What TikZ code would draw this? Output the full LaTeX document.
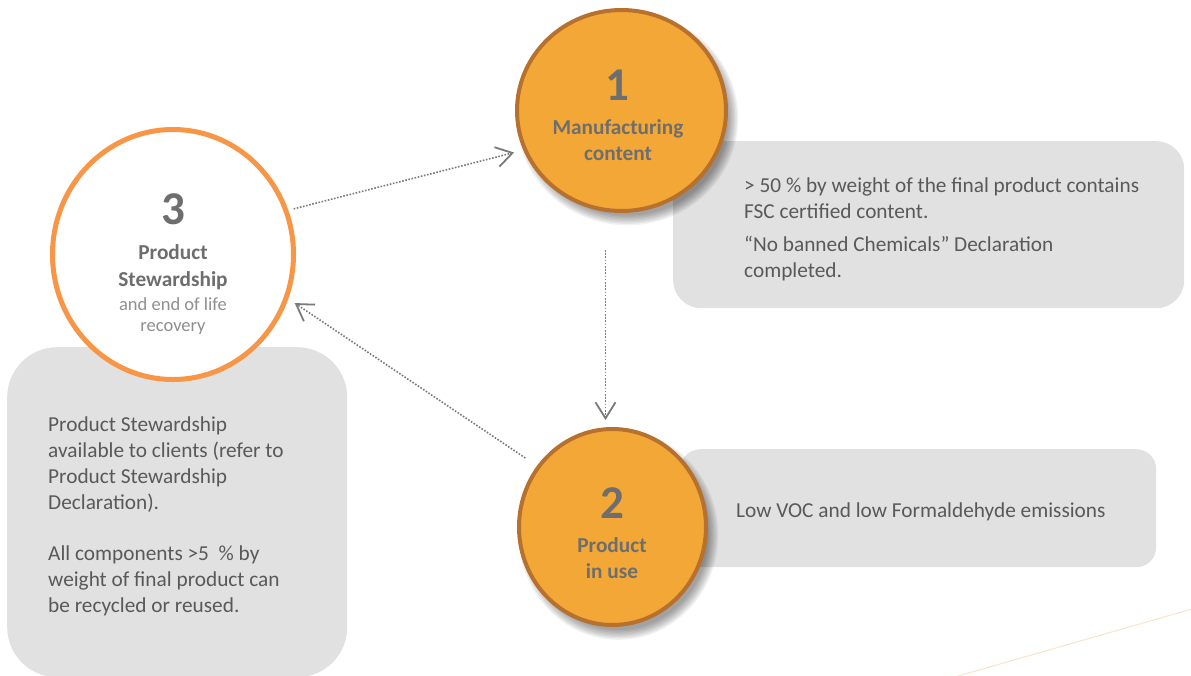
\documentclass[tikz,border=0pt]{standalone}
\usepackage{fontspec}
\setmainfont{Carlito}
\usetikzlibrary{arrows.meta,shapes.geometric,calc}
\definecolor{orfill}{HTML}{F3A736}
\definecolor{orline}{HTML}{B7712F}
\definecolor{ring}{HTML}{F79646}
\definecolor{boxgray}{HTML}{E1E1E1}
\definecolor{titlegray}{HTML}{6E6E6E}
\definecolor{bodygray}{HTML}{595959}
\definecolor{subgray}{HTML}{8F8F8F}
\definecolor{arrgray}{HTML}{7A7A7A}
\definecolor{peach}{HTML}{FBE3CB}
\begin{document}
\begin{tikzpicture}[x=1pt,y=-1pt,
  orangecirc/.style={ellipse, draw=orline, line width=4pt, fill=orfill, inner sep=0pt},
  ringcirc/.style={ellipse, draw=ring, line width=5pt, fill=white, inner sep=0pt},
  infobox/.style={fill=boxgray, draw=none, inner sep=0pt, anchor=north west},
  numtxt/.style={font=\fontsize{47}{50}\selectfont\bfseries, text=titlegray, inner sep=0pt, anchor=base},
  titletxt/.style={font=\fontsize{21.3}{26}\selectfont\bfseries, text=titlegray, inner sep=0pt, anchor=base},
  subtxt/.style={font=\fontsize{18.5}{23}\selectfont, text=subgray, inner sep=0pt, anchor=base},
  bodytxt/.style={font=\fontsize{21.3}{26}\selectfont, text=bodygray, inner sep=0pt, anchor=base west},
  flow/.style={draw=arrgray, line width=1.6pt, dash pattern=on 1.6pt off 1.6pt,
    -{Straight Barb[length=16pt,width=20pt,line width=1.8pt]}}
]
\useasboundingbox (0,0) rectangle (1191,675);
\clip (0,0) rectangle (1191,675);

% grey information boxes
\node[infobox, rounded corners=28pt, minimum width=511pt, minimum height=167pt] (b1) at (673,141) {};
\node[infobox, rounded corners=20pt, minimum width=476pt, minimum height=118pt] (b2) at (680,449) {};
\node[infobox, rounded corners=50pt, minimum width=340pt, minimum height=330pt] (b3) at (7,347) {};

% faint decorative line
\coordinate (d1) at (958,676);
\coordinate (d2) at (1192,609);
\draw[peach, line width=1pt] (d1) -- (d2);

% circle centres
\coordinate (p1) at (621.5,110.5);
\coordinate (p2) at (612.5,527);
\coordinate (p3) at (173,254.5);

% soft shadows of the orange circles
\foreach \k in {0,...,7}{
  \fill[black, opacity=0.055] ($(p1)+(6,8)$) ellipse [x radius={101pt+1.4pt*\k}, y radius={97pt+1.4pt*\k}];
  \fill[black, opacity=0.055] ($(p2)+(6,8)$) ellipse [x radius={90pt+1.4pt*\k}, y radius={95pt+1.4pt*\k}];
}

% circles
\node[orangecirc, minimum width=209pt, minimum height=201pt] (c1) at (p1) {};
\node[orangecirc, minimum width=187pt, minimum height=196pt] (c2) at (p2) {};
\node[ringcirc, minimum width=241pt, minimum height=250pt] (c3) at (p3) {};

% circle texts
\node[numtxt] (n1) at (617.5,100) {1};
\node[titletxt] (n1a) at (618,134) {Manufacturing};
\node[titletxt] (n1b) at (618,160) {content};

\node[numtxt] (n2) at (612,518) {2};
\node[titletxt] (n2a) at (612,552) {Product};
\node[titletxt] (n2b) at (612,578) {in use};

\node[numtxt] (n3) at (173,224) {3};
\node[titletxt] (n3a) at (173,259) {Product};
\node[titletxt] (n3b) at (173,286) {Stewardship};
\node[subtxt] (n3c) at (173,310) {and end of life};
\node[subtxt] (n3d) at (173,331) {recovery};

% box texts
\node[bodytxt] (t1a) at (744,192) {> 50 \% by weight of the final product contains};
\node[bodytxt] (t1b) at (744,218) {FSC certified content.};
\node[bodytxt] (t1c) at (744,251) {“No banned Chemicals” Declaration};
\node[bodytxt] (t1d) at (744,277) {completed.};

\node[bodytxt] (t2a) at (736,517) {Low VOC and low Formaldehyde emissions};

\node[bodytxt] (t3a) at (48,431) {Product Stewardship};
\node[bodytxt] (t3b) at (48,457) {available to clients (refer to};
\node[bodytxt] (t3c) at (48,483) {Product Stewardship};
\node[bodytxt] (t3d) at (48,509) {Declaration).};
\node[bodytxt] (t3e) at (48,560) {All components >5\ \ \% by};
\node[bodytxt] (t3f) at (48,586) {weight of final product can};
\node[bodytxt] (t3g) at (48,612) {be recycled or reused.};

% connectors
\draw[flow, shorten <=5.5pt, shorten >=9.5pt] (c3.21.8) -- (c1.202.7);
\draw[flow] ([xshift=-16pt,yshift=-37pt]c1.south) -- ([xshift=-7pt,yshift=7pt]c2.north);
\draw[flow, shorten <=14pt, shorten >=7.7pt] (c2.141.7) -- (c3.-21.7);
\end{tikzpicture}
\end{document}
